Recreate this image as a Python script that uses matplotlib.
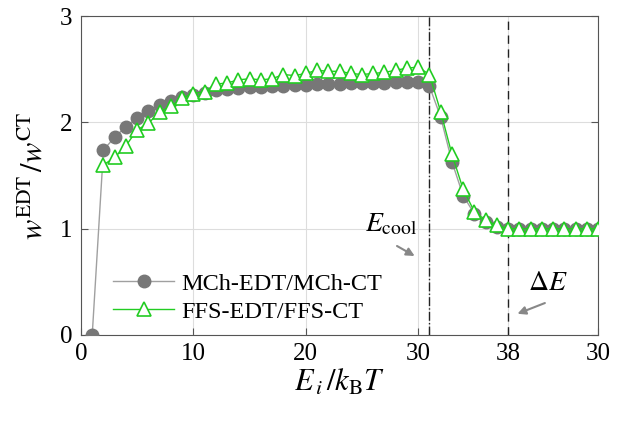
import numpy as np
import matplotlib.pyplot as plt

plt.rcParams['font.family'] = 'Liberation Serif'
plt.rcParams['mathtext.fontset'] = 'stix'

# energy index E_i/k_B T
x = np.arange(1, 47)

mch = [0.00, 1.74, 1.86, 1.96, 2.04, 2.11, 2.16, 2.20, 2.24, 2.26,
       2.28, 2.30, 2.31, 2.32, 2.33, 2.33, 2.34, 2.34, 2.35, 2.35,
       2.36, 2.36, 2.36, 2.37, 2.37, 2.37, 2.37, 2.38, 2.38, 2.38,
       2.34, 2.05, 1.63, 1.31, 1.14, 1.06, 1.02, 1.00, 1.00, 1.00,
       1.00, 1.00, 1.00, 1.00, 1.00, 1.00]

ffs = [np.nan, 1.60, 1.67, 1.78, 1.93, 1.99, 2.10, 2.15, 2.23, 2.27,
       2.29, 2.36, 2.37, 2.40, 2.41, 2.40, 2.41, 2.45, 2.44, 2.46,
       2.49, 2.48, 2.48, 2.46, 2.45, 2.46, 2.47, 2.49, 2.51, 2.52,
       2.45, 2.10, 1.70, 1.37, 1.16, 1.08, 1.03, 1.00, 1.00, 1.00,
       1.00, 1.00, 1.00, 1.00, 1.00, 1.00]

xticks = [0, 10, 20, 30, 31, 38, 46]
xticklabels = ['0', '10', '20', '30', '', '38', '30']
e_cool = 31
delta_e = 38

fig = plt.figure(figsize=(6.2, 4.22), dpi=100)
ax = fig.add_axes([0.1306, 0.2062, 0.834, 0.7558])

ax.plot(x, mch, color='#a0a0a0', lw=1, marker='o', ms=9,
        mfc='#777777', mec='#777777', label='MCh-EDT/MCh-CT', zorder=3)
ax.plot(x, ffs, color='#22cc22', lw=1, marker='^', ms=10,
        mfc='white', mec='#22cc22', mew=1.2, label='FFS-EDT/FFS-CT', zorder=4)

ax.axvline(e_cool, color='#222222', lw=1, ls='-.', zorder=2)
ax.axvline(delta_e, color='#222222', lw=1, ls=(0, (6, 4)), zorder=2)

ax.set_xlim(0, 46)
ax.set_ylim(0, 3)
ax.set_xticks(xticks)
ax.set_xticklabels(xticklabels)
ax.set_yticks([0, 1, 2, 3])
ax.tick_params(direction='in', labelsize=18, top=False, right=True,
               color='#555555', length=5, pad=6)
ax.grid(True, color='#dddddd', lw=0.8)
ax.set_axisbelow(True)
for s in ax.spines.values():
    s.set_color('#555555')

ax.set_xlabel(r'$E_{\,i}\,/k_{\mathrm{B}}T$', fontsize=22, labelpad=2)
ax.set_ylabel(r'$w^{\mathrm{EDT}}\,/w^{\mathrm{CT}}$', fontsize=22, labelpad=8)

ax.annotate('', xy=(29.9, 0.73), xytext=(27.9, 0.85),
            arrowprops=dict(arrowstyle='-|>', color='#888888', lw=1.5,
                            mutation_scale=12))
ax.text(25.3, 0.97, r'$E_{\mathrm{cool}}$', fontsize=20)

ax.annotate('', xy=(38.6, 0.19), xytext=(41.5, 0.31),
            arrowprops=dict(arrowstyle='-|>', color='#888888', lw=1.5,
                            mutation_scale=12))
ax.text(39.8, 0.42, r'$\Delta E$', fontsize=20)

ax.legend(loc='lower left', bbox_to_anchor=(0.02, -0.03), frameon=False,
          fontsize=17.5, handlelength=2.5, handletextpad=0.3, labelspacing=0.25)

fig.savefig('out.png', dpi=100)
